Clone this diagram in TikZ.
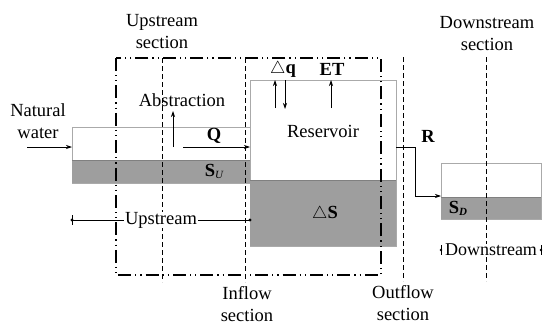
\documentclass[tikz,border=0pt]{standalone}
\usepackage{fontspec}
\setmainfont{Liberation Serif}
\usetikzlibrary{arrows.meta}
\definecolor{water}{RGB}{158,158,158}
\definecolor{edge}{RGB}{170,170,170}
\tikzset{
  lbl/.style={font=\fontsize{18.5}{22}\selectfont, align=center, inner sep=0pt},
  blbl/.style={font=\fontsize{18.5}{22}\selectfont\bfseries, inner sep=0pt},
  flow/.style={-{Stealth[length=6pt,width=4pt]}, line width=0.7pt},
  sectionline/.style={dashed, dash pattern=on 5pt off 3pt, line width=0.7pt},
  boxline/.style={line width=1.6pt, dash pattern=on 13pt off 4pt on 1.2pt off 4pt on 1.2pt off 4pt},
  channel/.style={draw=edge, line width=0.8pt, fill=white},
  wet/.style={draw=gray, line width=0.6pt, fill=water},
  dimline/.style={line width=0.7pt},
}
\begin{document}
\begin{tikzpicture}[x=1pt,y=-1pt]
\useasboundingbox (0,0) rectangle (543,324);
\fill[white] (0,0) rectangle (543,324);
% channels
\draw[channel] (72,127) rectangle (250,183);
\fill[water] (72,160) rectangle (250,183);
\draw[gray,line width=0.6pt] (72,160) -- (250,160);
\draw[channel] (250,80) rectangle (396,246);
\fill[water] (250,180) rectangle (396,246);
\draw[gray,line width=0.6pt] (250,180) -- (396,180);
\draw[channel] (441,163) rectangle (541,219);
\fill[water] (441,197) rectangle (541,219);
\draw[gray,line width=0.6pt] (441,197) -- (541,197);
% control volume box
\draw[boxline] (116,58) rectangle (381,275);
% section lines
\coordinate (us1) at (162,58); \coordinate (us2) at (162,282);
\coordinate (in1) at (245,58); \coordinate (in2) at (245,282);
\coordinate (out1) at (403,57); \coordinate (out2) at (403,281);
\coordinate (ds1) at (486,57); \coordinate (ds2) at (486,281);
\draw[sectionline] (us1) -- (us2);
\draw[sectionline] (in1) -- (in2);
\draw[sectionline] (out1) -- (out2);
\draw[sectionline] (ds1) -- (ds2);
% labels
\node[lbl] (upsec) at (162,32) {Upstream\\section};
\node[lbl] (dnsec) at (487,34) {Downstream\\section};
\node[lbl] (insec) at (247,304) {Inflow\\section};
\node[lbl] (outsec) at (403,303) {Outflow\\section};
\node[lbl] (natural) at (38,121) {Natural\\water};
\node[lbl] (abstr) at (182,100) {Abstraction};
\node[blbl] (Q) at (214,136) {Q};
\node[lbl] (res) at (323,131) {Reservoir};
\node[blbl] (dq) at (283,69) {$\mathbf{\triangle}$q};
\node[blbl] (ET) at (332,69) {ET};
\node[blbl] (R) at (428,136) {R};
\node[blbl] (SU) at (214,171) {S\raisebox{-2pt}{\fontsize{11}{11}\selectfont\mdseries\itshape U}};
\node[blbl] (dS) at (325,214) {$\triangle$S};
\node[blbl] (SD) at (458,208) {S\raisebox{-2pt}{\fontsize{11}{11}\selectfont\itshape D}};
% flows
\coordinate (nw1) at (27,147); \coordinate (nw2) at (72,147);
\draw[flow] (nw1) -- (nw2);
\coordinate (ab1) at (173,147); \coordinate (ab2) at (173,111);
\draw[flow] (ab1) -- (ab2);
\coordinate (q1) at (183,147); \coordinate (q2) at (250,147);
\draw[flow] (q1) -- (q2);
\coordinate (dqa1) at (275,108); \coordinate (dqa2) at (275,80);
\draw[flow] (dqa1) -- (dqa2);
\coordinate (dqb1) at (285,80); \coordinate (dqb2) at (285,109);
\draw[flow] (dqb1) -- (dqb2);
\coordinate (et1) at (331,108); \coordinate (et2) at (331,80);
\draw[flow] (et1) -- (et2);
\coordinate (r1) at (396,147); \coordinate (r2) at (441,196);
\draw[flow] (r1) -- (415,147) -- (415,196) -- (r2);
% dimension lines
\coordinate (ul) at (72,220); \coordinate (ur) at (250,220);
\node[lbl,fill=white,inner xsep=1pt] (updim) at (161,220) {Upstream};
\draw[dimline] (ul) -- (updim.west);
\draw[dimline] (updim.east) -- (ur);
\draw[dimline] (72,215) -- (72,225);
\fill (ul) circle (1.6pt);
\fill (ur) circle (1.6pt);
\coordinate (dl) at (441,250); \coordinate (dr) at (541,250);
\node[lbl,fill=white,inner xsep=0.5pt,font=\fontsize{18}{22}\selectfont] (dndim) at (491,250) {Downstream};
\draw[dimline] (441,245) -- (441,255);
\draw[dimline] (541,245) -- (541,255);
\fill (dl) circle (1.4pt);
\fill (dr) circle (1.4pt);
\end{tikzpicture}
\end{document}
